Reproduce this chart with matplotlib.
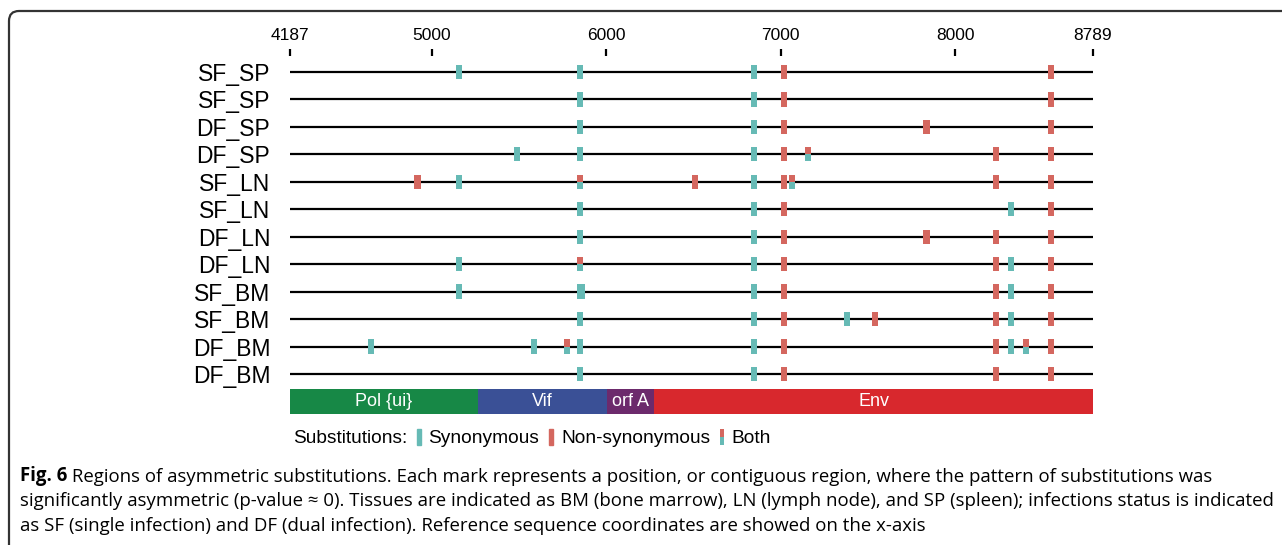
import matplotlib.pyplot as plt
from matplotlib.patches import Rectangle, FancyBboxPatch, Patch
from matplotlib.legend_handler import HandlerBase

# sample rows, top to bottom
rows = ["SF_SP", "SF_SP", "DF_SP", "DF_SP", "SF_LN", "SF_LN",
        "DF_LN", "DF_LN", "SF_BM", "SF_BM", "DF_BM", "DF_BM"]

# positions of asymmetric substitutions (reference coordinates)
synonymous = [
    [5155, 5850, 6847],
    [5850, 6847],
    [5850, 6847],
    [5487, 5850, 6847],
    [5155, 6847],
    [5850, 6847, 8318],
    [5850, 6847],
    [5155, 6847, 8318],
    [5155, 5850, 5860, 6847, 8318],
    [5850, 6847, 7380, 8318],
    [4654, 5586, 5850, 6847, 8318],
    [5850, 6847],
]
non_synonymous = [
    [7019, 8547],
    [7019, 8547],
    [7019, 7835, 8547],
    [7019, 8232, 8547],
    [4918, 6509, 7019, 8232, 8547],
    [7019, 8547],
    [7019, 7835, 8232, 8547],
    [7019, 8232, 8547],
    [7019, 8232, 8547],
    [7019, 7541, 8232, 8547],
    [7019, 8232, 8547],
    [7019, 8232, 8547],
]
both = [
    [], [], [], [7155], [5850, 7063], [], [], [5850], [], [], [5777, 8404], [],
]

seq_start, seq_end = 4187, 8789
xticks = [4187, 5000, 6000, 7000, 8000, 8789]

genes = ["Pol {ui}", "Vif", "orf A", "Env"]
gene_start = [4187, 5266, 6007, 6276]
gene_end = [5266, 6007, 6276, 8789]
gene_colors = ["#178846", "#3a5096", "#6c2a6c", "#d8282d"]

teal = "#66bab5"
red = "#d4675f"

W, H = 1282, 545
fig = plt.figure(figsize=(W / 100, H / 100), dpi=100)
plt.rcParams["font.family"] = ["Liberation Sans", "DejaVu Sans"]

# outer frame with rounded top-left corner (inch units)
frame = FancyBboxPatch((0.09, -1.0), 14.0, 1.0 + (H - 11) / 100,
                       boxstyle="round,pad=0,rounding_size=0.1",
                       transform=fig.dpi_scale_trans, fill=False,
                       edgecolor="#333333", linewidth=1.6)
fig.patches.append(frame)

ax = fig.add_axes([289.8 / W, 1 - 417.9 / H, 803.2 / W, 362.4 / H])
ax.set_xlim(seq_start, seq_end)
ax.set_ylim(12.6, -0.6)

mark_w = 36
mark_h = 0.52
for i in range(len(rows)):
    ax.plot([seq_start, seq_end], [i, i], color="black", lw=1.6, zorder=1)
    ax.bar(synonymous[i], mark_h, bottom=i - mark_h / 2, width=mark_w,
           color=teal, zorder=2)
    ax.bar(non_synonymous[i], mark_h, bottom=i - mark_h / 2, width=mark_w,
           color=red, zorder=2)
    if both[i]:
        ax.bar(both[i], mark_h / 2, bottom=i - mark_h / 2, width=mark_w,
               color=red, zorder=3)
        ax.bar(both[i], mark_h / 2, bottom=i, width=mark_w,
               color=teal, zorder=3)

# gene annotation bar
gene_y = 12
for g, s, e, c in zip(genes, gene_start, gene_end, gene_colors):
    ax.barh(gene_y, e - s, left=s, height=0.9, color=c, zorder=2)
    ax.text((s + e) / 2, gene_y, g, color="white", ha="center", va="center",
            fontsize=13)

ax.set_yticks(range(len(rows)))
ax.set_yticklabels(rows, fontsize=16.5)
ax.tick_params(axis="y", length=0, pad=14)
ax.xaxis.tick_top()
ax.set_xticks(xticks)
ax.set_xticklabels([str(t) for t in xticks], fontsize=12.5)
ax.tick_params(axis="x", length=5, width=1.6, pad=4, color="black")
for sp in ax.spines.values():
    sp.set_visible(False)


class BothHandler(HandlerBase):
    def create_artists(self, legend, orig_handle, xdescent, ydescent,
                       width, height, fontsize, trans):
        top = Rectangle((-xdescent, -ydescent + height / 2), width, height / 2,
                        facecolor=red, transform=trans)
        bot = Rectangle((-xdescent, -ydescent), width, height / 2,
                        facecolor=teal, transform=trans)
        return [top, bot]


handles = [Patch(alpha=0), Patch(color=teal), Patch(color=red), Patch()]
labels = ["Substitutions:", "Synonymous", "Non-synonymous", "Both"]
fig.legend(handles, labels, ncol=4, frameon=False, fontsize=13.8,
           loc="center left", bbox_to_anchor=(281 / W, 1 - 438 / H),
           handlelength=0.22, handleheight=0.95, handletextpad=0.4,
           columnspacing=0.5, borderpad=0, borderaxespad=0,
           handler_map={handles[3]: BothHandler()})

# caption
cap_font = ["Open Sans", "DejaVu Sans"]
cap_size = 13.4
fig_lab = fig.text(20 / W, 1 - 476 / H, "Fig. 6", fontsize=cap_size,
                   weight="bold", family=cap_font, va="center")
plt.annotate(" Regions of asymmetric substitutions. Each mark represents a position, "
             "or contiguous region, where the pattern of substitutions was",
             xy=(1, 0), xycoords=fig_lab, va="bottom", ha="left",
             fontsize=cap_size, family=cap_font, annotation_clip=False)
fig.text(20 / W, 1 - 501 / H,
         "significantly asymmetric (p-value \u2248 0). Tissues are indicated as BM "
         "(bone marrow), LN (lymph node), and SP (spleen); infections status is indicated",
         fontsize=cap_size, family=cap_font, va="center")
fig.text(20 / W, 1 - 526 / H,
         "as SF (single infection) and DF (dual infection). Reference sequence "
         "coordinates are showed on the x-axis",
         fontsize=cap_size, family=cap_font, va="center")

fig.savefig("out.png", dpi=100)
